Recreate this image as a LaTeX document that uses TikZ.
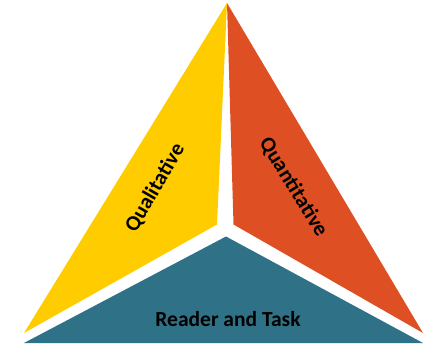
\documentclass[tikz,border=0pt]{standalone}
\usepackage{fontspec}
\setmainfont{Carlito}
\definecolor{yel}{HTML}{FFCC00}
\definecolor{ora}{HTML}{DE5023}
\definecolor{tea}{HTML}{2F7187}
\tikzset{lab/.style={font=\fontsize{21.5pt}{25pt}\selectfont\bfseries,text=black,inner sep=0pt}}
\begin{document}
\begin{tikzpicture}[x=1pt,y=-1pt]
\useasboundingbox (0,0) rectangle (423,347);
\fill[yel] (227,3) -- (217,224.5) -- (24,333) -- cycle;
\fill[ora] (227,3) -- (233.5,224.5) -- (423,333) -- cycle;
\fill[tea] (226,236.5) -- (423,343) -- (24,343) -- cycle;
\node[lab,rotate=60] (q1) at (155,188) {Qualitative};
\node[lab,rotate=-58.5] (q2) at (293.5,187) {Quantitative};
\node[lab] (rt) at (228,319) {Reader and Task};
\end{tikzpicture}
\end{document}
